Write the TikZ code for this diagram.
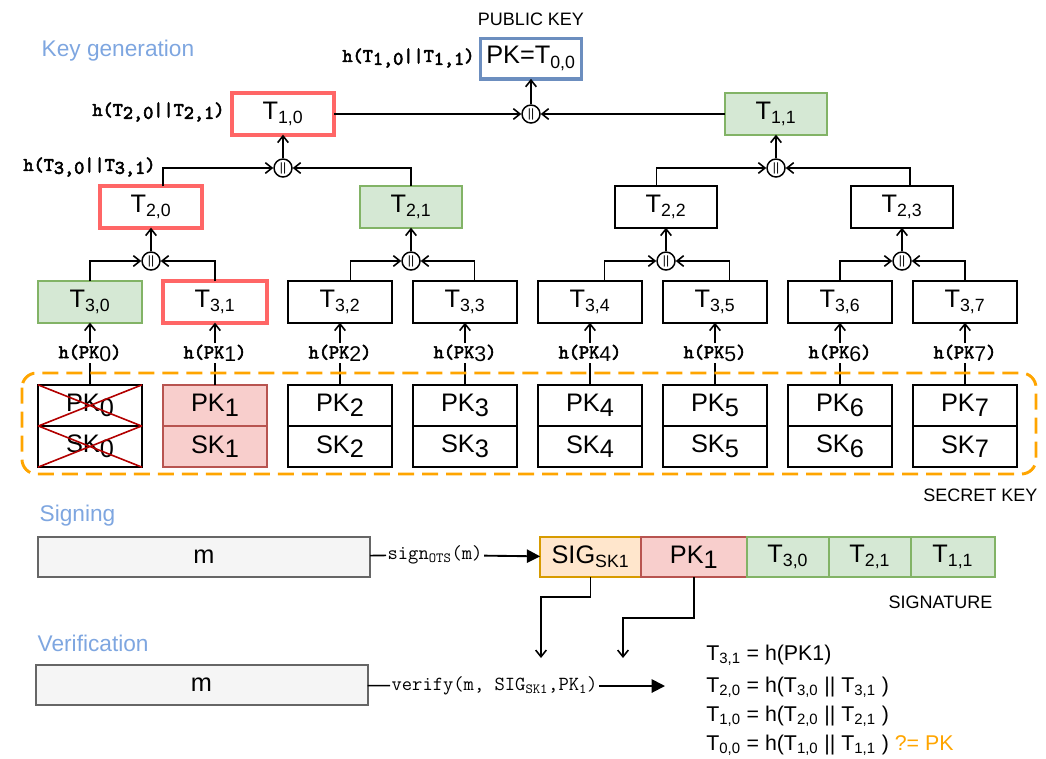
\documentclass[tikz,border=0pt]{standalone}
\usepackage{fontspec}
\setmainfont{Liberation Sans}
\newfontfamily\hmono{lmmono10-regular.otf}[FakeBold=3]
\usepackage{tikz}
\usetikzlibrary{arrows.meta, positioning}
\definecolor{titleblue}{HTML}{7EA6E0}
\definecolor{keyblue}{HTML}{6C8EBF}
\definecolor{hotred}{HTML}{FF6666}
\definecolor{leafgreen}{HTML}{82B366}
\definecolor{leaffill}{HTML}{D5E8D4}
\definecolor{skred}{HTML}{B85450}
\definecolor{skfill}{HTML}{F8CECC}
\definecolor{sigorange}{HTML}{D79B00}
\definecolor{sigfill}{HTML}{FFE6CC}
\definecolor{msgfill}{HTML}{F5F5F5}
\definecolor{msgdraw}{HTML}{666666}
\definecolor{dashorange}{HTML}{FFA500}
\definecolor{crossred}{HTML}{B20000}
\newcommand\boxfont{\fontsize{19}{22}\selectfont}
\newcommand\lowr[1]{\raisebox{-0.35ex}{#1}}

\begin{document}
\begin{tikzpicture}[x=0.75pt, y=-0.75pt,
  tbox/.style={draw, line width=1.5pt, minimum width=77pt, minimum height=31pt,
    inner sep=0pt, outer sep=0pt, font=\boxfont},
  redbox/.style={tbox, draw=hotred, line width=3pt},
  greenbox/.style={tbox, draw=leafgreen, fill=leaffill},
  kbox/.style={tbox, minimum width=78pt},
  kred/.style={kbox, draw=skred, fill=skfill},
  sigbox/.style={tbox, minimum height=30.5pt},
  msgbox/.style={tbox, draw=msgdraw, fill=msgfill, minimum width=249pt, minimum height=30pt},
  cat/.style={draw, circle, line width=1.1pt, minimum size=13.5pt, inner sep=0pt,
    font=\fontsize{9}{9}\selectfont},
  link/.style={line width=1.2pt, -{Straight Barb[length=5pt,width=8pt]}},
  push/.style={line width=1.4pt, -{Triangle[length=10pt,width=10pt]}},
  hlab/.style={font=\fontsize{14.5}{16}\selectfont\hmono, inner sep=1pt},
  oplab/.style={font=\fontsize{15}{18}\selectfont\ttfamily, inner sep=1pt},
  title/.style={font=\fontsize{17}{20}\selectfont, text=titleblue, anchor=west},
  caps/.style={font=\fontsize{13.5}{16}\selectfont},
  eq/.style={font=\fontsize{16}{19}\selectfont, anchor=west, inner sep=0pt}]

\useasboundingbox (0,0) rectangle (1046,758);

% key generation
\node[title] (keygen) at (37,51) {Key generation};
\node[caps] (pubkeylab) at (531,19) {PUBLIC KEY};
\node[tbox, draw=keyblue, line width=2.5pt, minimum width=75.5pt, minimum height=30.5pt]
  (pubkey) at (531,58.5) {PK=T\textsubscript{0,0}};
\node[hlab, anchor=east] (hroot) at (476,58) {h(T\lowr{1,0}||T\lowr{1,1})};

\node[cat] (c0) at (531,114) {||};
\node[redbox] (t10) at (283,114) {T\textsubscript{1,0}};
\node[greenbox] (t11) at (776,114) {T\textsubscript{1,1}};
\node[hlab, anchor=east] (hleft) at (226,112) {h(T\lowr{2,0}||T\lowr{2,1})};

\node[cat] (c10) at (283,168) {||};
\node[cat] (c11) at (776,168) {||};
\node[hlab, anchor=east] (hsub) at (157,167) {h(T\lowr{3,0}||T\lowr{3,1})};

\node[redbox] (t20) at (151,207) {T\textsubscript{2,0}};
\node[greenbox] (t21) at (411,207) {T\textsubscript{2,1}};
\node[tbox] (t22) at (666,207) {T\textsubscript{2,2}};
\node[tbox] (t23) at (902,207) {T\textsubscript{2,3}};

\node[cat] (c20) at (151,261) {||};
\node[cat] (c21) at (411,261) {||};
\node[cat] (c22) at (666,261) {||};
\node[cat] (c23) at (902,261) {||};

\foreach \i/\lx/\sty/\kst in {0/90/greenbox/kbox, 1/215/redbox/kred, 2/340/tbox/kbox,
    3/465/tbox/kbox, 4/590/tbox/kbox, 5/715/tbox/kbox, 6/840/tbox/kbox, 7/965/tbox/kbox} {
  \node[\sty, minimum width=78pt] (t3\i) at (\lx,302) {T\textsubscript{3,\i}};
  \node[hlab] (h\i) at (\lx,353) {h(PK\lowr{\normalfont\fontsize{16}{16}\selectfont\i})};
  \node[\kst] (pk\i) at (\lx,405.5) {PK\lowr{\i}};
  \node[\kst] (sk\i) at (\lx,446.5) {SK\lowr{\i}};
  \draw[link] (h\i) -- (t3\i);
  \draw[line width=1.2pt] (pk\i) -- (h\i);
}

% used one-time key
\draw[crossred, line width=1.2pt] (pk0.north west) -- (pk0.south east)
  (pk0.south west) -- (pk0.north east)
  (sk0.north west) -- (sk0.south east)
  (sk0.south west) -- (sk0.north east);

\draw[link] (t30.north) |- (c20);
\draw[link] (t31.north) |- (c20);
\draw[link] ([xshift=8pt]t32.north) |- (c21);
\draw[link] ([xshift=7pt]t33.north) |- (c21);
\draw[link] ([xshift=11pt]t34.north) |- (c22);
\draw[link] ([xshift=11pt]t35.north) |- (c22);
\draw[link] (t36.north) |- (c23);
\draw[link] (t37.north) |- (c23);

\draw[link] (c20) -- (t20);
\draw[link] (c21) -- (t21);
\draw[link] (c22) -- (t22);
\draw[link] (c23) -- (t23);

\draw[link] ([xshift=9pt]t20.north) |- (c10);
\draw[link] (t21.north) |- (c10);
\draw[link] ([xshift=-7pt]t22.north) |- (c11);
\draw[link] ([xshift=6pt]t23.north) |- (c11);

\draw[link] (c10) -- (t10);
\draw[link] (c11) -- (t11);
\draw[link] (t10) -- (c0);
\draw[link] (t11) -- (c0);
\draw[link] (c0) -- (pubkey);

\draw[dashorange, line width=2.2pt, dash pattern=on 12pt off 6pt, rounded corners=11pt]
  (22,373) rectangle (1036,474);
\node[caps, anchor=east] (seclab) at (1042,495) {SECRET KEY};

% signing
\node[title] (signing) at (35,516) {Signing};
\node[msgbox] (msg) at (204,557) {m};
\node[oplab, anchor=west] (signop) at (386,555) {sign\textsubscript{OTS}(m)};
\node[sigbox, draw=sigorange, fill=sigfill, minimum width=75.5pt] (sig) at (590.5,557)
  {SIG\textsubscript{SK1}};
\node[sigbox, draw=skred, fill=skfill, minimum width=79.5pt, right=0pt of sig] (sigpk)
  {PK\lowr{1}};
\node[sigbox, draw=leafgreen, fill=leaffill, minimum width=61.5pt, right=0pt of sigpk]
  (sigt30) {T\textsubscript{3,0}};
\node[sigbox, draw=leafgreen, fill=leaffill, minimum width=61.5pt, right=0pt of sigt30]
  (sigt21) {T\textsubscript{2,1}};
\node[sigbox, draw=leafgreen, fill=leaffill, minimum width=63pt, right=0pt of sigt21]
  (sigt11) {T\textsubscript{1,1}};
\node[caps, anchor=east] (siglab) at (997,602) {SIGNATURE};

\draw[line width=1.2pt] (msg) -- (signop);
\draw[push] (signop) -- (sig);

\coordinate (sigbend) at (541,597);
\coordinate (sigend) at (541,658);
\coordinate (pkbend) at (623,618);
\coordinate (pkend) at (623,658);
\draw[link] (sig.south) |- (sigbend) -- (sigend);
\draw[link] (sigpk.south) |- (pkbend) -- (pkend);

% verification
\node[title] (verif) at (33,643) {Verification};
\node[msgbox] (msgv) at (201.5,685) {m};
\node[oplab, anchor=west] (verop) at (390,686)
  {verify(m, SIG\textsubscript{SK1},PK\textsubscript{1})};
\coordinate (verend) at (665,686);
\draw[line width=1.2pt] (msgv) -- (verop);
\draw[push] (verop) -- (verend);

\node[eq] (eqa) at (706,655) {T\textsubscript{3,1} = h(PK1)};
\node[eq] (eqb) at (706,687) {T\textsubscript{2,0} = h(T\textsubscript{3,0} || T\textsubscript{3,1} )};
\node[eq] (eqc) at (706,716) {T\textsubscript{1,0} = h(T\textsubscript{2,0} || T\textsubscript{2,1} )};
\node[eq] (eqd) at (706,745) {T\textsubscript{0,0} = h(T\textsubscript{1,0} || T\textsubscript{1,1} )
  \textcolor{dashorange}{?= PK}};

\end{tikzpicture}
\end{document}
